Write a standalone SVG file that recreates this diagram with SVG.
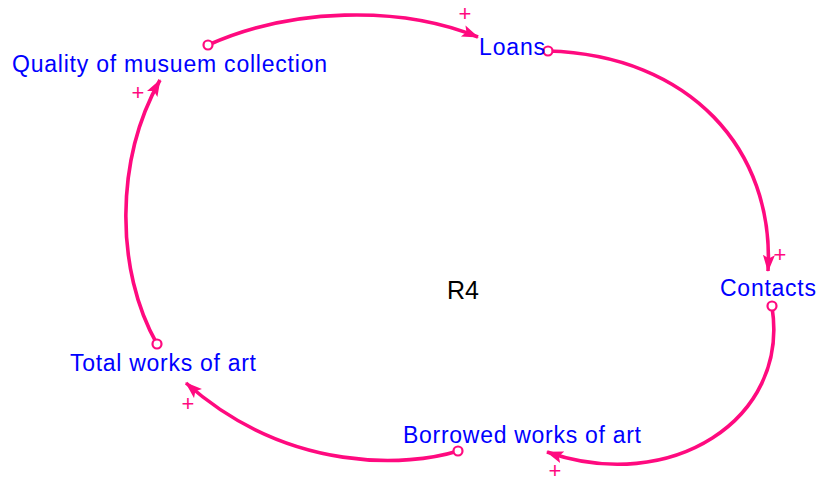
<svg xmlns="http://www.w3.org/2000/svg" width="819" height="483" viewBox="0 0 819 483">
<style>
.lbl{font-family:"Liberation Sans",Arial,sans-serif;font-size:23px;fill:#0000FF}
.r{font-family:"Liberation Sans",Arial,sans-serif;font-size:25px;fill:#000}
.pl{font-family:"Liberation Sans",Arial,sans-serif;font-size:22px;fill:#FF0A7F;text-anchor:middle}
.ln{fill:none;stroke:#FF0A7F;stroke-width:3.6;marker-end:url(#ah)}
.oc{fill:#fff;stroke:#FF0A7F;stroke-width:2.2}
</style>
<defs>
<marker id="ah" markerUnits="userSpaceOnUse" markerWidth="20" markerHeight="14" refX="16" refY="6" orient="auto">
<path d="M0,0 L17,6 L0,12 L3.5,6 z" fill="#FF0A7F"/>
</marker>
</defs>
<g id="connectors">
<path class="ln" d="M208,45 C 290,8 400,5 478,37"/>
<path class="ln" d="M548,51 C 690,55 775,150 768,271"/>
<path class="ln" d="M772,307 C 790,420 670,495 547,452"/>
<path class="ln" d="M458,451 C 410,466 290,475 186,383"/>
<path class="ln" d="M157,344 C 115,270 115,160 160,80"/>
<circle class="oc" cx="208" cy="45" r="4.5"/>
<circle class="oc" cx="548" cy="51" r="4.5"/>
<circle class="oc" cx="772" cy="306" r="4.5"/>
<circle class="oc" cx="458" cy="451" r="4.5"/>
<circle class="oc" cx="157" cy="344" r="4.5"/>
<text class="pl" x="465" y="21">+</text>
<text class="pl" x="780" y="262">+</text>
<text class="pl" x="555" y="478">+</text>
<text class="pl" x="188" y="411">+</text>
<text class="pl" x="138" y="100">+</text>
</g>
<g id="quality"><text class="lbl" x="12" y="72" textLength="315">Quality of musuem collection</text></g>
<g id="loans"><text class="lbl" x="479" y="55" textLength="66">Loans</text></g>
<g id="contacts"><text class="lbl" x="720" y="296" textLength="96">Contacts</text></g>
<g id="borrowed"><text class="lbl" x="403" y="443" textLength="238">Borrowed works of art</text></g>
<g id="total"><text class="lbl" x="70" y="371" textLength="186">Total works of art</text></g>
<g id="r4"><text class="r" x="447" y="299">R4</text></g>
</svg>
